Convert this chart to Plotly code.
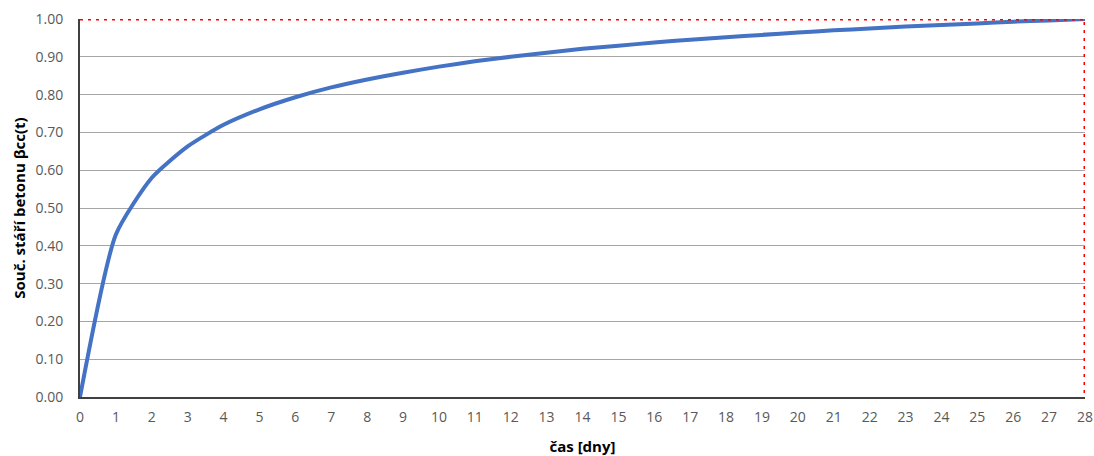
import plotly.graph_objects as go

# Concrete age coefficient vs. time in days
days = [0, 1, 2, 3, 4, 5, 6, 7, 8, 9, 10, 11, 12, 13, 14, 15, 16, 17, 18, 19,
        20, 21, 22, 23, 24, 25, 26, 27, 28]
beta_cc = [0.0, 0.43, 0.58, 0.663, 0.720, 0.761, 0.793, 0.819, 0.840, 0.858,
           0.874, 0.888, 0.900, 0.911, 0.921, 0.929, 0.938, 0.945, 0.952, 0.958,
           0.964, 0.970, 0.975, 0.980, 0.984, 0.988, 0.993, 0.996, 1.0]

ref_value = 1.0
ref_day = 28

x_ticks = list(range(0, 29))
y_ticks = [round(i * 0.1, 2) for i in range(11)]
y_labels = [f"{v:.2f}" for v in y_ticks]

font_family = "Open Sans, Liberation Sans, sans-serif"

fig = go.Figure()

fig.add_trace(go.Scatter(
    x=days, y=beta_cc, mode="lines",
    line=dict(color="#4472C4", width=4, shape="spline", smoothing=0.6),
    showlegend=False, hoverinfo="x+y",
))

# Red dotted reference lines at beta = 1.0 and t = 28 days
fig.add_trace(go.Scatter(
    x=[0, ref_day, ref_day], y=[ref_value, ref_value, 0], mode="lines",
    line=dict(color="#FF0000", width=3, dash="3px,5px"),
    cliponaxis=False, showlegend=False, hoverinfo="skip",
))

fig.update_layout(
    width=1094, height=456,
    margin=dict(l=80, r=9, t=19, b=59),
    paper_bgcolor="white", plot_bgcolor="white",
    font=dict(family=font_family, color="#595959", size=14),
    xaxis=dict(
        range=[0, 28], tickmode="array", tickvals=x_ticks,
        ticktext=[str(v) for v in x_ticks],
        showgrid=False, zeroline=False, automargin=False,
        showline=True, linecolor="#404040", linewidth=2,
        ticks="", ticklen=0, ticklabelstandoff=6,
        title=dict(text="<b>čas [dny]</b>", standoff=22,
                   font=dict(size=15, color="black", family=font_family)),
    ),
    yaxis=dict(
        range=[0, 1.0], tickmode="array", tickvals=y_ticks, ticktext=y_labels,
        showgrid=True, gridcolor="#A6A6A6", gridwidth=1,
        zeroline=False, automargin=False,
        showline=True, linecolor="#404040", linewidth=2,
        ticks="", ticklen=0, ticklabelstandoff=12,
        title=dict(text="<b>Souč. stáří betonu βcc(t)</b>", standoff=6,
                   font=dict(size=15, color="black", family=font_family)),
    ),
)

fig.write_html("out.html")
